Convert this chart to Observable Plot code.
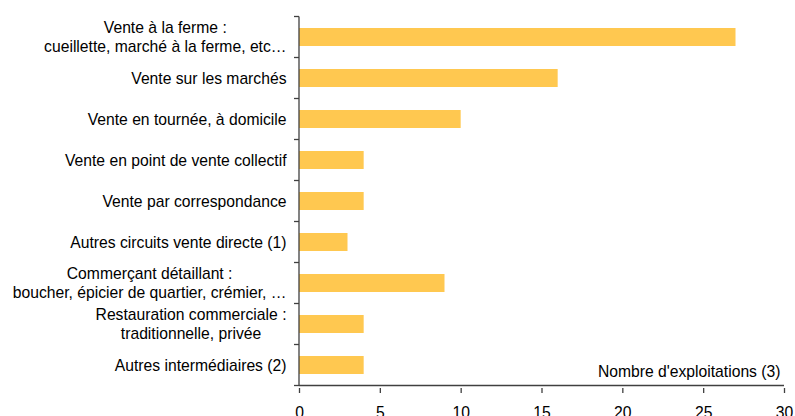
<!DOCTYPE html>
<html>
<head>
<meta charset="utf-8">
<script src="https://cdn.jsdelivr.net/npm/d3@7"></script>
<script src="https://cdn.jsdelivr.net/npm/@observablehq/plot@0.6"></script>
<style>
  html, body { margin: 0; padding: 0; background: white; }
</style>
</head>
<body>
<script>
const categories = [
  "Vente à la ferme",
  "Vente sur les marchés",
  "Vente en tournée",
  "Vente en point de vente collectif",
  "Vente par correspondance",
  "Autres circuits vente directe",
  "Commerçant détaillant",
  "Restauration commerciale",
  "Autres intermédiaires"
];
const labels = [
  "Vente à la ferme :\ncueillette, marché à la ferme, etc…",
  "Vente sur les marchés",
  "Vente en tournée, à domicile",
  "Vente en point de vente collectif",
  "Vente par correspondance",
  "Autres circuits vente directe (1)",
  "Commerçant détaillant :\nboucher, épicier de quartier, crémier, …",
  "Restauration commerciale :\ntraditionnelle, privée",
  "Autres intermédiaires (2)"
];
const values = [27, 16, 10, 4, 4, 3, 9, 4, 4];
const xTicks = [0, 5, 10, 15, 20, 25, 30];
const axisTitle = "Nombre d'exploitations (3)";

const data = categories.map((c, i) => ({category: c, label: labels[i], value: values[i]}));

const axisColor = "#404040";
const fs = 15.7;

function axisLines(index, scales, values, dimensions) {
  const {x, y} = scales;
  const bw = typeof y.bandwidth === "function" ? y.bandwidth() : y.bandwidth;
  const step = y(categories[1]) - y(categories[0]);
  const gap = (step - bw) / 2;
  const ys = categories.map(c => y(c) - gap);
  ys.push(y(categories[categories.length - 1]) + bw + gap);
  const g = d3.create("svg:g").attr("stroke", axisColor).attr("stroke-width", 1.3).attr("fill", "none");
  const x0 = x(0);
  g.selectAll("line.t").data(ys).join("line")
    .attr("x1", x0 - 5).attr("x2", x0).attr("y1", d => d).attr("y2", d => d);
  // vertical axis line
  g.append("line").attr("x1", x0).attr("x2", x0).attr("y1", ys[0]).attr("y2", ys[ys.length - 1]);
  // horizontal axis line
  const yb = ys[ys.length - 1];
  g.append("line").attr("x1", x(xTicks[0])).attr("x2", x(xTicks[xTicks.length - 1]))
    .attr("y1", yb).attr("y2", yb);
  return g.node();
}

const chart = Plot.plot({
  width: 795,
  height: 416,
  marginLeft: 299,
  marginRight: 11,
  marginTop: 13,
  marginBottom: 28,
  style: {fontFamily: "'Liberation Sans', Arial, sans-serif", fontSize: fs + "px", color: "#000", background: "white", overflow: "visible"},
  x: {domain: [0, 30], ticks: xTicks},
  y: {domain: categories, paddingInner: 0.57, paddingOuter: 0.285, axis: null},
  marks: [
    Plot.barX(data, {x: "value", y: "category", fill: "#FFC850"}),
    axisLines,
    Plot.axisX({ticks: xTicks, tickSize: 5, tickPadding: 13, stroke: axisColor, strokeWidth: 1.3, fontSize: fs, fill: "#000", label: null}),
    Plot.text(data, {x: 0, y: "category", text: "label", textAnchor: "end", dx: -13, dy: -1, lineHeight: 1.24, fontSize: fs, fill: "#000"}),
    Plot.text([axisTitle], {frameAnchor: "bottom-right", text: d => d, textAnchor: "end", lineAnchor: "middle", dx: -4, dy: -17, fontSize: fs, fill: "#000"})
  ]
});
document.body.append(chart);

// center the lines of multi-line labels within their (right-aligned) block
d3.select(chart).selectAll("text").each(function() {
  const tspans = Array.from(this.querySelectorAll("tspan"));
  if (tspans.length < 2) return;
  const widths = tspans.map(t => t.getComputedTextLength());
  const w = Math.max(...widths);
  this.setAttribute("text-anchor", "middle");
  tspans.forEach(t => { t.setAttribute("x", -w / 2); t.setAttribute("text-anchor", "middle"); });
});
</script>
</body>
</html>
